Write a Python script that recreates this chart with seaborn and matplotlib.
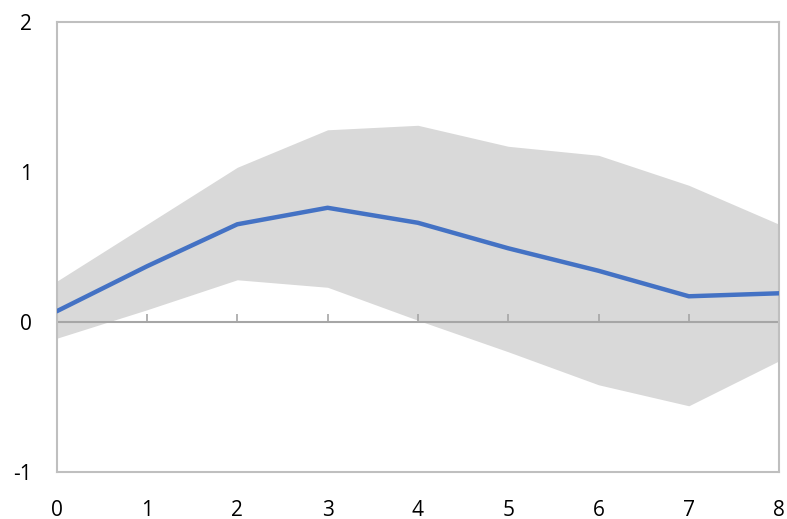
import numpy as np
import seaborn as sns
import matplotlib.pyplot as plt

horizon = [0, 1, 2, 3, 4, 5, 6, 7, 8]
response = [0.07, 0.37, 0.65, 0.76, 0.66, 0.49, 0.34, 0.17, 0.19]
upper = [0.27, 0.65, 1.03, 1.28, 1.31, 1.17, 1.11, 0.91, 0.65]
lower = [-0.11, 0.08, 0.28, 0.23, 0.01, -0.20, -0.42, -0.56, -0.26]

sns.set_style('white')
plt.rcParams['font.family'] = ['Open Sans', 'DejaVu Sans']

fig, ax = plt.subplots(figsize=(7.87, 5.19), dpi=100)
fig.subplots_adjust(left=0.072, right=0.99, top=0.958, bottom=0.091)

ax.fill_between(horizon, lower, upper, color='#d9d9d9', linewidth=0, zorder=1)
ax.axhline(0, color='#a6a6a6', linewidth=1.5, zorder=2)
ax.vlines(horizon[1:], 0, 0.05, color='#a6a6a6', linewidth=1.2, zorder=2)
sns.lineplot(x=horizon, y=response, ax=ax, color='#4472c4', linewidth=3.2, zorder=3)

ax.set_xlim(0, 8)
ax.set_ylim(-1, 2)
ax.set_xticks(horizon)
ax.set_yticks([-1, 0, 1, 2])
ax.set_yticklabels(['-1', '0', '1', '2'])
ax.tick_params(axis='both', length=0, labelsize=15, colors='#000000')
ax.tick_params(axis='x', pad=20)
ax.tick_params(axis='y', pad=18)
for s in ax.spines.values():
    s.set_color('#bfbfbf')
    s.set_linewidth(1.5)

fig.savefig('out.png', dpi=100)
